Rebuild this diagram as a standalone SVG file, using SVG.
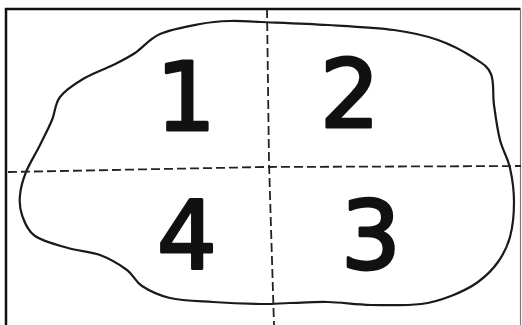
<svg xmlns="http://www.w3.org/2000/svg" width="522" height="325" viewBox="0 0 522 325">
  <style>
    .frame { fill: none; stroke: #111; stroke-width: 2.5; }
    .blob { fill: none; stroke: #1a1a1a; stroke-width: 2.2; stroke-linejoin: round; }
    .cut { fill: none; stroke: #222; stroke-width: 1.8; stroke-dasharray: 9 4; }
    .num { font-family: "DejaVu Sans", sans-serif; font-size: 94px; fill: #111; stroke: #111; stroke-width: 3; stroke-linejoin: round; stroke-linecap: round; text-anchor: middle; }
  </style>
  <rect width="522" height="325" fill="#fff"/>
  <g id="frame">
    <path class="frame" d="M6,325 V9 H520.5"/>
    <path d="M520.5,9 V325" fill="none" stroke="#777" stroke-width="1.2"/>
  </g>
  <g id="outline">
    <path class="blob" d="M261,22 C277.3,22.7 305.8,23.7 328,25 C350.2,26.3 375.7,27.5 394,30 C412.3,32.5 424.7,35.3 438,40 C451.3,44.7 465.2,52.3 474,58 C482.8,63.7 487.7,66.2 491,74 C494.3,81.8 492.5,94 494,105 C495.5,116 497.3,129.5 500,140 C502.7,150.5 507.7,157.7 510,168 C512.3,178.3 514,190.5 514,202 C514,213.5 512.7,227 510,237 C507.3,247 503.3,254.5 498,262 C492.7,269.5 485.8,276.3 478,282 C470.2,287.7 460.5,292.3 451,296 C441.5,299.7 434.3,302.5 421,304 C407.7,305.5 386.5,305.3 371,305 C355.5,304.7 341.5,302.3 328,302 C314.5,301.7 301.2,302.7 290,303 C278.8,303.3 273.8,304.2 261,304 C248.2,303.8 228.2,303 213,302 C197.8,301 181.8,300.7 170,298 C158.2,295.3 149.2,290.7 142,286 C134.8,281.3 134,275.2 127,270 C120,264.8 109.8,258.7 100,255 C90.2,251.3 78.8,251.2 68,248 C57.2,244.8 42.7,241.5 35,236 C27.3,230.5 24.5,221.8 22,215 C19.5,208.2 19.3,202.2 20,195 C20.7,187.8 22.7,180.3 26,172 C29.3,163.7 35.7,153.7 40,145 C44.3,136.3 48.7,128 52,120 C55.3,112 54.8,103.8 60,97 C65.2,90.2 74.2,84.3 83,79 C91.8,73.7 104.3,69.3 113,65 C121.7,60.7 127.2,58.2 135,53 C142.8,47.8 149.2,38.8 160,34 C170.8,29.2 188.3,26.2 200,24 C211.7,21.8 219.8,21.3 230,21 C240.2,20.7 244.7,21.3 261,22 Z"/>
  </g>
  <g id="cut-lines">
    <polyline class="cut" points="8,172 265,167 521,166"/>
    <polyline class="cut" points="267,9 269,162 274,325"/>
  </g>
  <g id="part-1"><text class="num" x="186" y="130">1</text></g>
  <g id="part-2"><text class="num" x="350" y="127">2</text></g>
  <g id="part-3"><text class="num" x="371" y="269">3</text></g>
  <g id="part-4"><text class="num" x="187" y="268">4</text></g>
</svg>
